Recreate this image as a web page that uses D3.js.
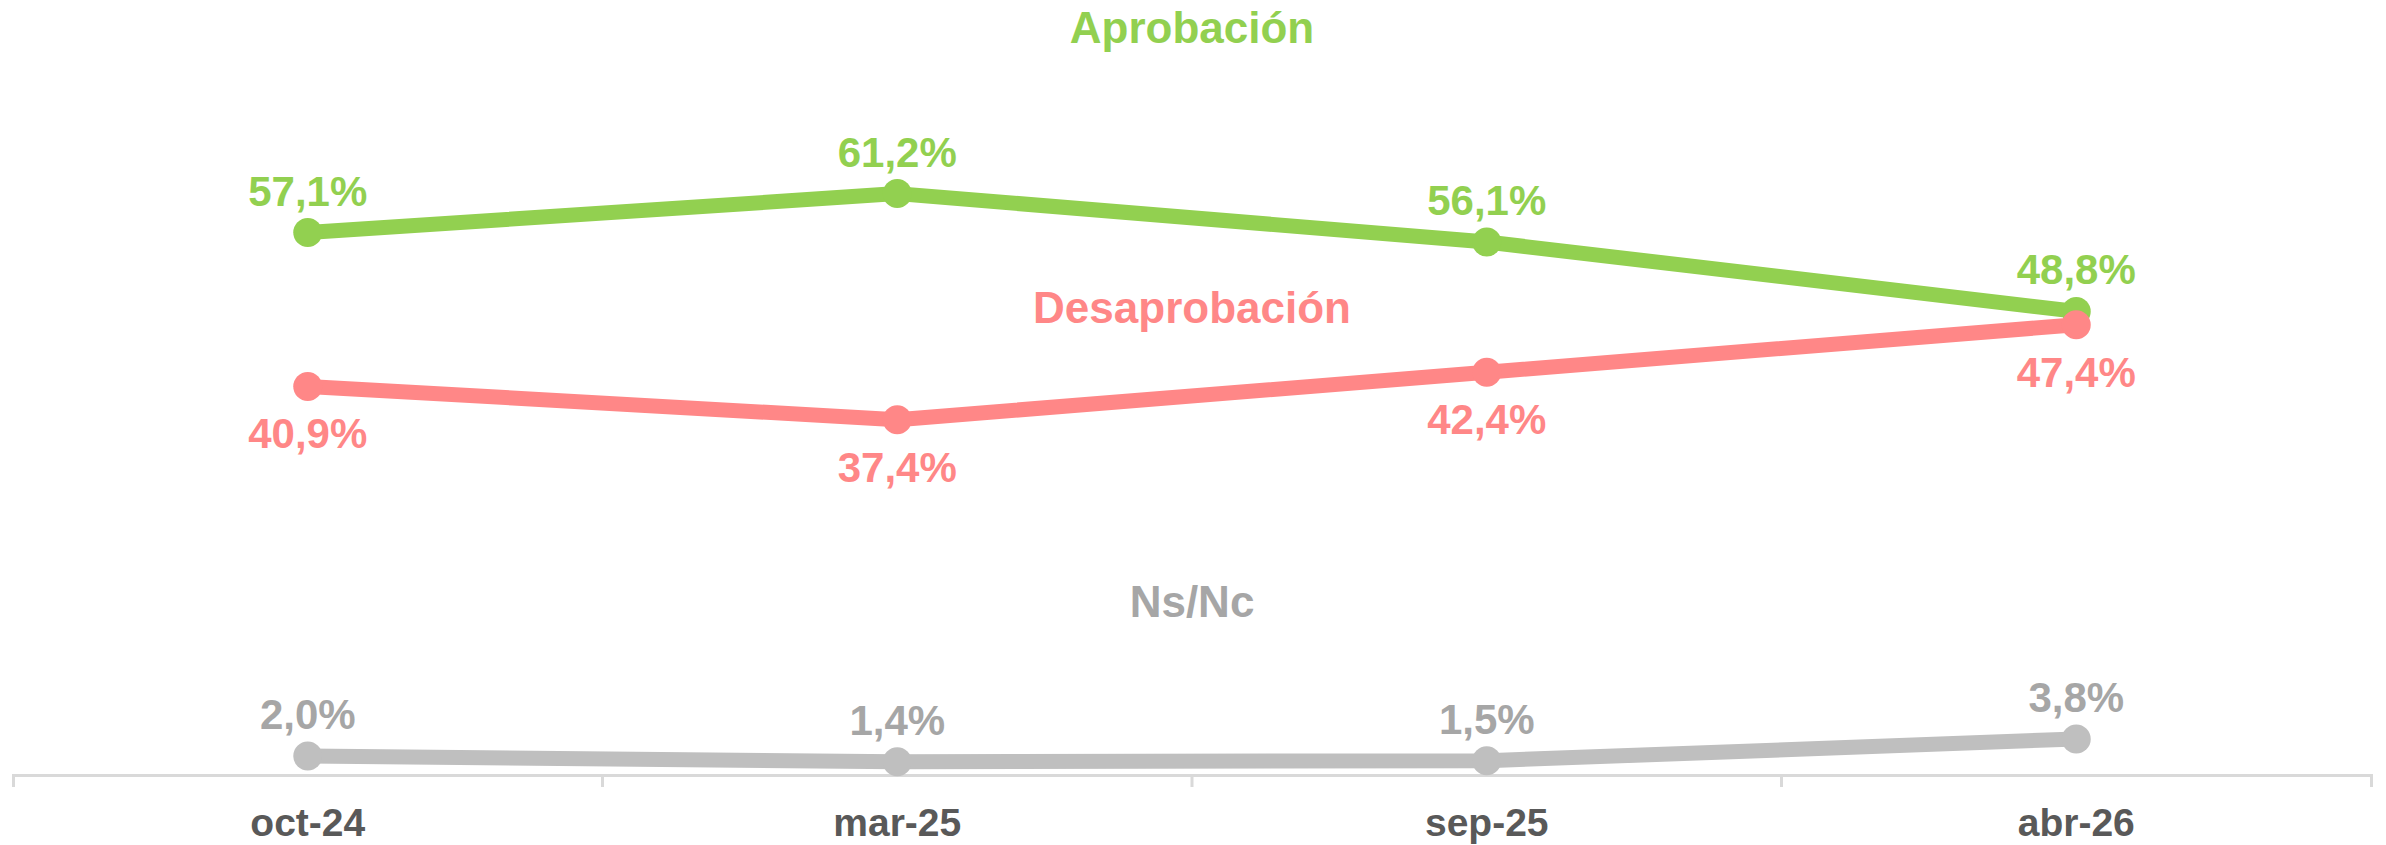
<html>
<head>
    <title>Aprobación</title>
    <style>
        body { margin: 0; background: white; }
        text { font-family: "Liberation Sans", Arial, sans-serif; font-weight: bold; }
        .axis path, .axis line { stroke: #d9d9d9; stroke-width: 3px; fill: none; }
        .axis text { fill: #595959; font-size: 39px; }
    </style>
</head>
<body>
    <svg id="container" width="2386" height="845"></svg>
</body>
<script src="https://cdn.jsdelivr.net/npm/d3@7"></script>
<script>
    const categories = ["oct-24", "mar-25", "sep-25", "abr-26"]
    const aprobacion = [57.1, 61.2, 56.1, 48.8]
    const desaprobacion = [40.9, 37.4, 42.4, 47.4]
    const nsnc = [2.0, 1.4, 1.5, 3.8]

    let svg = d3.select("#container")

    let xScale = d3.scaleBand()
        .domain(categories)
        .range([13, 2371])

    let yScale = d3.scaleLinear()
        .domain([0, 80])
        .range([775, 15])

    let cx = c => xScale(c) + xScale.bandwidth() / 2
    let fmt = v => v.toFixed(1).replace(".", ",") + "%"

    // x axis with outer ticks pointing down
    let axis = svg.append("g")
        .attr("class", "axis")
        .attr("transform", "translate(0, 775)")
        .call(d3.axisBottom(xScale).tickSize(0).tickSizeOuter(12))

    axis.selectAll(".tick text")
        .attr("y", 61)
        .attr("dy", 0)

    // separators between categories
    axis.selectAll(".sep")
        .data(categories.slice(1))
        .enter().append("line")
        .attr("class", "sep")
        .attr("x1", d => xScale(d))
        .attr("x2", d => xScale(d))
        .attr("y1", 0)
        .attr("y2", 12)

    let series = [
        { name: "Aprobación", values: aprobacion, color: "#92d050", label: "#92d050", offset: -27, titleY: 43 },
        { name: "Ns/Nc", values: nsnc, color: "#bfbfbf", label: "#a6a6a6", offset: -27, titleY: 617 },
        { name: "Desaprobación", values: desaprobacion, color: "#ff8787", label: "#ff8787", offset: 62, titleY: 323 }
    ]

    let line = d3.line()
        .x((d, i) => cx(categories[i]))
        .y(d => yScale(d))

    series.forEach(s => {
        let g = svg.append("g")

        g.append("text")
            .attr("x", 1192)
            .attr("y", s.titleY)
            .attr("text-anchor", "middle")
            .style("font-size", "44px")
            .style("fill", s.label)
            .text(s.name)

        g.append("path")
            .datum(s.values)
            .attr("d", line)
            .attr("fill", "none")
            .attr("stroke", s.color)
            .attr("stroke-width", 15)
            .attr("stroke-linejoin", "round")

        g.selectAll("circle")
            .data(s.values)
            .enter().append("circle")
            .attr("cx", (d, i) => cx(categories[i]))
            .attr("cy", d => yScale(d))
            .attr("r", 14.5)
            .attr("fill", s.color)

        g.selectAll(".val")
            .data(s.values)
            .enter().append("text")
            .attr("class", "val")
            .attr("x", (d, i) => cx(categories[i]))
            .attr("y", d => yScale(d) + s.offset)
            .attr("text-anchor", "middle")
            .style("font-size", "42px")
            .style("fill", s.label)
            .text(fmt)
    })
</script>
</html>
